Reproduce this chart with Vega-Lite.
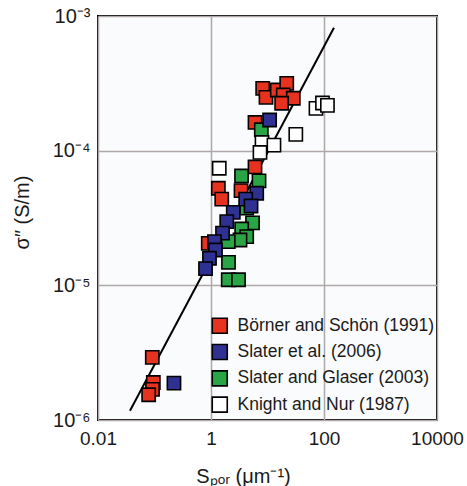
{
  "$schema": "https://vega.github.io/schema/vega-lite/v6.json",
  "width": 339,
  "height": 404,
  "autosize": {"type": "none"},
  "padding": {"left": 98, "top": 16, "right": 30, "bottom": 66},
  "background": "white",
  "config": {
    "font": "Liberation Sans",
    "view": {"stroke": "black", "strokeWidth": 2, "fill": "#fafbfd"},
    "axis": {
      "domain": false,
      "ticks": false,
      "grid": true,
      "gridColor": "#aea8a8",
      "gridWidth": 1.5,
      "labelColor": "#1a1a1a",
      "titleColor": "#1a1a1a",
      "labelFont": "Liberation Sans",
      "titleFont": "Liberation Sans",
      "titleFontWeight": "normal"
    }
  },
  "datasets": {
    "samples": [
      {"src": "Börner and Schön (1991)", "s": 8.22, "sig": 2.90e-4},
      {"src": "Börner and Schön (1991)", "s": 9.40, "sig": 2.49e-4},
      {"src": "Börner and Schön (1991)", "s": 14.9, "sig": 2.82e-4},
      {"src": "Börner and Schön (1991)", "s": 21.9, "sig": 3.16e-4},
      {"src": "Börner and Schön (1991)", "s": 19.0, "sig": 2.59e-4},
      {"src": "Börner and Schön (1991)", "s": 28.6, "sig": 2.45e-4},
      {"src": "Börner and Schön (1991)", "s": 17.8, "sig": 2.25e-4},
      {"src": "Börner and Schön (1991)", "s": 6.01, "sig": 1.62e-4},
      {"src": "Börner and Schön (1991)", "s": 6.01, "sig": 7.57e-5},
      {"src": "Börner and Schön (1991)", "s": 1.35, "sig": 5.26e-5},
      {"src": "Börner and Schön (1991)", "s": 1.55, "sig": 4.37e-5},
      {"src": "Börner and Schön (1991)", "s": 3.40, "sig": 5.05e-5},
      {"src": "Börner and Schön (1991)", "s": 0.895, "sig": 2.05e-5},
      {"src": "Börner and Schön (1991)", "s": 0.0914, "sig": 2.92e-6},
      {"src": "Börner and Schön (1991)", "s": 0.0953, "sig": 1.90e-6},
      {"src": "Börner and Schön (1991)", "s": 0.0923, "sig": 1.69e-6},
      {"src": "Börner and Schön (1991)", "s": 0.0788, "sig": 1.54e-6},
      {"src": "Slater and Glaser (2003)", "s": 7.77, "sig": 1.43e-4},
      {"src": "Slater and Glaser (2003)", "s": 3.47, "sig": 6.49e-5},
      {"src": "Slater and Glaser (2003)", "s": 7.08, "sig": 5.96e-5},
      {"src": "Slater and Glaser (2003)", "s": 5.43, "sig": 2.91e-5},
      {"src": "Slater and Glaser (2003)", "s": 3.49, "sig": 2.62e-5},
      {"src": "Slater and Glaser (2003)", "s": 4.28, "sig": 2.30e-5},
      {"src": "Slater and Glaser (2003)", "s": 3.26, "sig": 2.17e-5},
      {"src": "Slater and Glaser (2003)", "s": 2.02, "sig": 2.11e-5},
      {"src": "Slater and Glaser (2003)", "s": 4.28, "sig": 3.74e-5},
      {"src": "Slater and Glaser (2003)", "s": 2.04, "sig": 1.48e-5},
      {"src": "Slater and Glaser (2003)", "s": 2.02, "sig": 1.10e-5},
      {"src": "Slater and Glaser (2003)", "s": 3.07, "sig": 1.10e-5},
      {"src": "Slater et al. (2006)", "s": 10.9, "sig": 1.69e-4},
      {"src": "Slater et al. (2006)", "s": 6.44, "sig": 4.83e-5},
      {"src": "Slater et al. (2006)", "s": 4.11, "sig": 4.37e-5},
      {"src": "Slater et al. (2006)", "s": 5.11, "sig": 3.88e-5},
      {"src": "Slater et al. (2006)", "s": 2.48, "sig": 3.48e-5},
      {"src": "Slater et al. (2006)", "s": 1.90, "sig": 2.97e-5},
      {"src": "Slater et al. (2006)", "s": 1.60, "sig": 2.44e-5},
      {"src": "Slater et al. (2006)", "s": 1.15, "sig": 2.11e-5},
      {"src": "Slater et al. (2006)", "s": 1.20, "sig": 1.83e-5},
      {"src": "Slater et al. (2006)", "s": 0.94, "sig": 1.59e-5},
      {"src": "Slater et al. (2006)", "s": 0.80, "sig": 1.33e-5},
      {"src": "Slater et al. (2006)", "s": 0.221, "sig": 1.88e-6},
      {"src": "Knight and Nur (1987)", "s": 72.1, "sig": 2.06e-4},
      {"src": "Knight and Nur (1987)", "s": 94.0, "sig": 2.26e-4},
      {"src": "Knight and Nur (1987)", "s": 115, "sig": 2.17e-4},
      {"src": "Knight and Nur (1987)", "s": 31.7, "sig": 1.32e-4},
      {"src": "Knight and Nur (1987)", "s": 8.0, "sig": 1.15e-4},
      {"src": "Knight and Nur (1987)", "s": 13.0, "sig": 1.10e-4},
      {"src": "Knight and Nur (1987)", "s": 7.36, "sig": 9.70e-5},
      {"src": "Knight and Nur (1987)", "s": 1.40, "sig": 7.40e-5}
    ],
    "fit": [
      {"s": 0.0368, "sig": 1.17e-6},
      {"s": 150, "sig": 8.18e-4}
    ]
  },
  "layer": [
    {
      "data": {"name": "fit"},
      "mark": {"type": "line", "color": "black", "strokeWidth": 2, "clip": true},
      "encoding": {
        "x": {"field": "s", "type": "quantitative"},
        "y": {"field": "sig", "type": "quantitative"}
      }
    },
    {
      "data": {"name": "samples"},
      "mark": {"type": "point", "shape": "square", "filled": true, "size": 175, "stroke": "black", "strokeWidth": 1.6, "opacity": 1},
      "encoding": {
        "x": {
          "field": "s",
          "type": "quantitative",
          "scale": {"type": "log", "domain": [0.01, 10000], "nice": false},
          "axis": {
            "values": [0.01, 1, 100, 10000],
            "format": "~g",
            "labelFlush": false,
            "labelFontSize": 19,
            "labelPadding": 9,
            "title": "Sₚₒᵣ (μm⁻¹)",
            "titleFontSize": 20,
            "titleX": 145,
            "titleY": 62,
            "titleAnchor": "middle",
            "titleAlign": "center",
            "titleBaseline": "alphabetic"
          }
        },
        "y": {
          "field": "sig",
          "type": "quantitative",
          "scale": {"type": "log", "domain": [0.000001, 0.001], "nice": false},
          "axis": {
            "values": [0.000001, 0.00001, 0.0001, 0.001],
            "labelExpr": "'10' + (round(log(datum.value)/LN10) == -3 ? '⁻³' : round(log(datum.value)/LN10) == -4 ? '⁻⁴' : round(log(datum.value)/LN10) == -5 ? '⁻⁵' : '⁻⁶')",
            "labelFontSize": 20,
            "labelPadding": 8,
            "title": "σ″ (S/m)",
            "titleFontSize": 20,
            "titleAngle": -90,
            "titleX": -76,
            "titleY": 196,
            "titleAlign": "center",
            "titleBaseline": "middle"
          }
        },
        "color": {
          "field": "src",
          "type": "nominal",
          "scale": {
            "domain": ["Börner and Schön (1991)", "Slater et al. (2006)", "Slater and Glaser (2003)", "Knight and Nur (1987)"],
            "range": ["#e6321f", "#2e3192", "#2aa546", "#ffffff"]
          },
          "legend": {
            "title": null,
            "orient": "none",
            "legendX": 113,
            "legendY": 301,
            "padding": 0,
            "symbolType": "square",
            "symbolSize": 225,
            "symbolStrokeColor": "black",
            "symbolStrokeWidth": 1.6,
            "symbolOpacity": 1,
            "labelFont": "Liberation Sans",
            "labelFontSize": 17.5,
            "labelColor": "#1a1a1a",
            "labelLimit": 0,
            "labelOffset": 9,
            "rowPadding": 4.3
          }
        }
      }
    }
  ]
}
